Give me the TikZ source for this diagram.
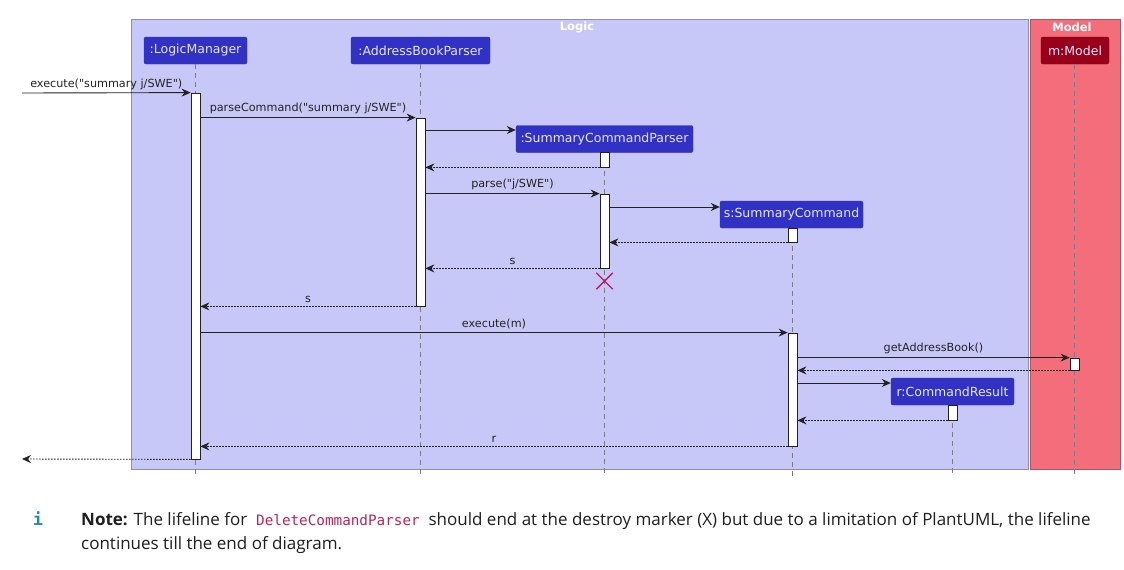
\documentclass[tikz,border=0pt]{standalone}
\usepackage{fontspec}
\setmainfont{DejaVu Sans}[Ligatures=TeXOff]
\newfontfamily\notefont{Open Sans}
\newfontfamily\codefont{DejaVu Sans Mono}
\usetikzlibrary{arrows.meta}
\newcommand\qq{\symbol{34}}
\definecolor{logicbg}{HTML}{C8C8F8}
\definecolor{logicbd}{HTML}{8E8EB0}
\definecolor{modelbg}{HTML}{F46D7A}
\definecolor{modelbd}{HTML}{B05560}
\definecolor{partbg}{HTML}{3131C6}
\definecolor{partbd}{HTML}{2A2AA0}
\definecolor{partfg}{HTML}{E6E6FF}
\definecolor{modelpart}{HTML}{99001A}
\definecolor{lifeln}{HTML}{7A7A8A}
\definecolor{xmark}{HTML}{C2185B}
\definecolor{codecol}{HTML}{B5245A}
\definecolor{infocol}{HTML}{1A8CB8}
\definecolor{arrowcol}{HTML}{222222}
\tikzset{
  part/.style={draw=partbd, fill=partbg, text=partfg, rounded corners=2pt, font=\fontsize{12.5}{14}\selectfont, inner sep=0pt, minimum height=27},
  act/.style={draw=arrowcol, fill=white, line width=0.8pt, minimum width=9, inner sep=0pt},
  life/.style={draw=lifeln, dash pattern=on 5pt off 4pt, line width=0.8pt},
  msg/.style={draw=arrowcol, line width=0.9pt, -{Stealth[length=9pt,width=8pt,inset=3pt]}},
  ret/.style={msg, dash pattern=on 1.6pt off 1.4pt},
  lbl/.style={font=\fontsize{11.2}{13}\selectfont, text=arrowcol, inner sep=0pt, anchor=base},
  grouptitle/.style={font=\bfseries\fontsize{11.5}{13}\selectfont, text=white, inner sep=0pt}
}
\begin{document}
\begin{tikzpicture}[x=1pt,y=-1pt]
\useasboundingbox (0,0) rectangle (1124,570);
% group boxes
\draw[logicbd, fill=logicbg, line width=0.8pt] (131,19) rectangle (1028,469);
\draw[modelbd, fill=modelbg, line width=0.8pt] (1030,19) rectangle (1120,469);
\node[grouptitle] (gL) at (577,27) {Logic};
\node[grouptitle] (gM) at (1072,27) {Model};
% participants
\node[part, minimum width=103] (pLM) at (195.5,50.5) {:LogicManager};
\node[part, minimum width=139] (pAB) at (420.5,50.5) {:AddressBookParser};
\node[part, minimum width=177] (pSCP) at (604.5,139) {:SummaryCommandParser};
\node[part, minimum width=143] (pSC) at (791.5,214.5) {s:SummaryCommand};
\node[part, minimum width=123] (pCR) at (952.5,391.5) {r:CommandResult};
\node[part, minimum width=68, fill=modelpart, draw=modelpart!80!black] (pM) at (1075,50.5) {m:Model};
% lifeline ends
\coordinate (eLM) at (195.5,476);
\coordinate (eAB) at (420.5,476);
\coordinate (eSCP) at (604.5,476);
\coordinate (eSC) at (792.5,476);
\coordinate (eCR) at (952.5,476);
\coordinate (eM) at (1074.5,476);
\draw[life] (pLM.south) -- (eLM);
\draw[life] (pAB.south) -- (eAB);
\draw[life] (pSCP.south) -- (eSCP);
\draw[life] (pSC.south -| eSC) -- (eSC);
\draw[life] (pCR.south) -- (eCR);
\draw[life] (pM.south -| eM) -- (eM);
% activations
\node[act, minimum height=366] (aLM) at (195.5,276) {};
\node[act, minimum height=188] (aAB) at (420.5,212) {};
\node[act, minimum height=15] (aSCP1) at (604.5,159.5) {};
\node[act, minimum height=74] (aSCP2) at (604.5,231) {};
\node[act, minimum height=14] (aSC1) at (792.5,235) {};
\node[act, minimum height=113] (aSC2) at (792.5,389.5) {};
\node[act, minimum height=12] (aM) at (1074.5,364) {};
\node[act, minimum height=15] (aCR) at (952.5,412.5) {};
% external ends
\coordinate (ext1) at (22,93);
\coordinate (ext2) at (22,459);
% messages
\draw[msg] (ext1) -- (aLM.north west) node[lbl, midway, above=3pt] (l1) {execute(\qq summary j/SWE\qq)};
\draw[msg] (aLM.east |- aAB.north) -- (aAB.north west) node[lbl, midway, above=3pt] (l2) {parseCommand(\qq summary j/SWE\qq)};
\draw[msg] (aAB.east |- 0,130) -- (pSCP.west |- 0,130);
\draw[ret] (aSCP1.south west) -- (aAB.east |- aSCP1.south);
\draw[msg] (aAB.east |- aSCP2.north) -- (aSCP2.north west) node[lbl, midway, above=3pt] (l5) {parse(\qq j/SWE\qq)};
\draw[msg] (aSCP2.east |- 0,207) -- (pSC.west |- 0,207);
\draw[ret] (aSC1.south west) -- (aSCP2.east |- aSC1.south);
\draw[ret] (aSCP2.south west) -- (aAB.east |- aSCP2.south) node[lbl, midway, above=3pt] (l8) {s};
\draw[ret] (aAB.south west) -- (aLM.east |- aAB.south) node[lbl, midway, above=3pt] (l10) {s};
\draw[msg] (aLM.east |- aSC2.north) -- (aSC2.north west) node[lbl, midway, above=3pt] (l11) {execute(m)};
\draw[msg] (aSC2.east |- aM.north) -- (aM.north west) node[lbl, midway, above=3pt] (l12) {getAddressBook()};
\draw[ret] (aM.south west) -- (aSC2.east |- aM.south);
\draw[msg] (aSC2.east |- 0,383) -- (pCR.west |- 0,383);
\draw[ret] (aCR.south west) -- (aSC2.east |- aCR.south);
\draw[ret] (aSC2.south west) -- (aLM.east |- aSC2.south) node[lbl, midway, above=3pt] (l16) {r};
\draw[ret] (aLM.south west) -- (ext2);
% destroy marker
\node[inner sep=0pt, minimum size=16] (xm) at (604.5,281) {};
\draw[xmark, line width=1.4pt] (xm.north west) -- (xm.south east) (xm.north east) -- (xm.south west);
% note
\node[anchor=base, text=infocol, font=\codefont\bfseries\fontsize{17}{20}\selectfont, inner sep=0pt] (info) at (38,525) {i};
\node[anchor=base west, inner sep=0pt, font=\notefont\fontsize{17}{20}\selectfont, text={rgb,255:red,30;green,30;blue,30}] (n1) at (81,525)
 {\textbf{Note:} The lifeline for \ {\codefont\fontsize{14.3}{16}\selectfont\color{codecol}DeleteCommandParser}\ \ should end at the destroy marker (X) but due to a limitation of PlantUML, the lifeline};
\node[anchor=base west, inner sep=0pt, font=\notefont\fontsize{17}{20}\selectfont, text={rgb,255:red,30;green,30;blue,30}] (n2) at (81,549) {continues till the end of diagram.};
\end{tikzpicture}
\end{document}
